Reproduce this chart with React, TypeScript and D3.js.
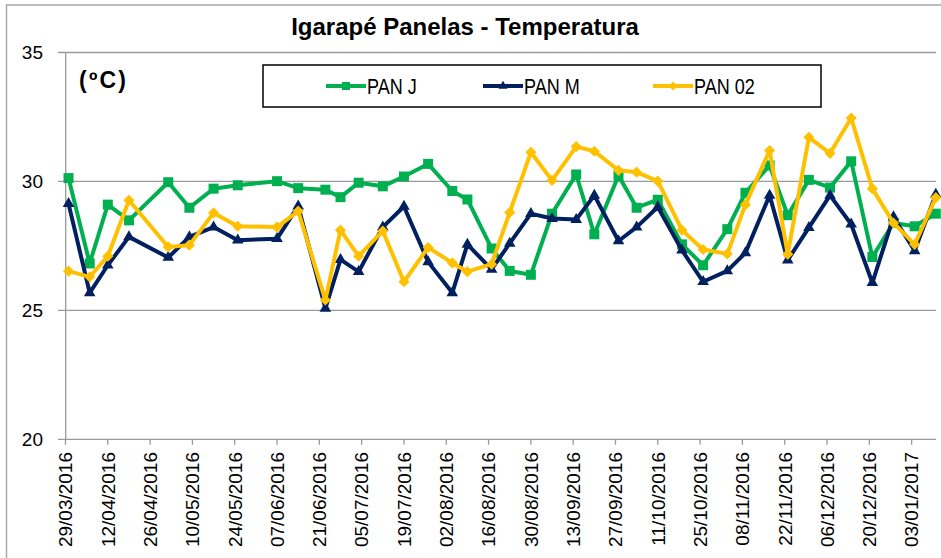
import React from "react";
import * as d3 from "d3";

// sample dates (dd/mm/yyyy)
const dates = [
  "30/03/2016", "06/04/2016", "12/04/2016", "19/04/2016", "02/05/2016",
  "09/05/2016", "17/05/2016", "25/05/2016", "07/06/2016", "14/06/2016",
  "23/06/2016", "28/06/2016", "04/07/2016", "12/07/2016", "19/07/2016",
  "27/07/2016", "04/08/2016", "09/08/2016", "17/08/2016", "23/08/2016",
  "30/08/2016", "06/09/2016", "14/09/2016", "20/09/2016", "28/09/2016",
  "04/10/2016", "11/10/2016", "19/10/2016", "26/10/2016", "03/11/2016",
  "09/11/2016", "17/11/2016", "23/11/2016", "30/11/2016", "07/12/2016",
  "14/12/2016", "21/12/2016", "28/12/2016", "04/01/2017", "11/01/2017",
];

const panJ = [
  30.13, 26.82, 29.1, 28.49, 29.97, 28.98, 29.72, 29.85, 30.01, 29.74,
  29.68, 29.39, 29.95, 29.81, 30.19, 30.68, 29.63, 29.3, 27.4, 26.53,
  26.38, 28.75, 30.27, 27.95, 30.23, 28.98, 29.29, 27.56, 26.75, 28.15,
  29.56, 30.62, 28.69, 30.06, 29.76, 30.78, 27.07, 28.39, 28.26, 28.75,
];

const panM = [
  29.14, 25.68, 26.75, 27.85, 27.05, 27.85, 28.23, 27.72, 27.78, 29.04,
  25.08, 26.97, 26.5, 28.23, 29.03, 26.88, 25.68, 27.56, 26.59, 27.6,
  28.75, 28.56, 28.52, 29.46, 27.69, 28.23, 29.01, 27.33, 26.11, 26.53,
  27.23, 29.46, 26.95, 28.21, 29.46, 28.34, 26.07, 28.62, 27.31, 29.5,
];

const pan02 = [
  26.52, 26.3, 27.1, 29.27, 27.46, 27.53, 28.78, 28.26, 28.23, 28.85,
  25.4, 28.11, 27.1, 28.08, 26.11, 27.44, 26.84, 26.5, 26.79, 28.8,
  31.13, 30.04, 31.35, 31.17, 30.43, 30.36, 30.01, 28.11, 27.36, 27.19,
  29.1, 31.2, 27.18, 31.71, 31.09, 32.46, 29.72, 28.39, 27.56, 29.37,
];

const tickLabels = [
  "29/03/2016", "12/04/2016", "26/04/2016", "10/05/2016", "24/05/2016",
  "07/06/2016", "21/06/2016", "05/07/2016", "19/07/2016", "02/08/2016",
  "16/08/2016", "30/08/2016", "13/09/2016", "27/09/2016", "11/10/2016",
  "25/10/2016", "08/11/2016", "22/11/2016", "06/12/2016", "20/12/2016",
  "03/01/2017",
];

const yTicks = [20, 25, 30, 35];

const seriesNames = ["PAN J", "PAN M", "PAN 02"];
const colours = ["#00b050", "#002060", "#ffc000"];

const parse = d3.utcParse("%d/%m/%Y");
const font = "'Liberation Sans', Arial, sans-serif";

function marker(i: number) {
  if (i === 0) return { d: d3.symbol(d3.symbolSquare, 100)(), rot: 0 };
  if (i === 1) return { d: d3.symbol(d3.symbolTriangle, 58)(), rot: 0 };
  return { d: d3.symbol(d3.symbolSquare, 62)(), rot: 45 };
}

export default function App() {
  const width = 941;
  const height = 558;

  const x = d3
    .scaleUtc()
    .domain([parse("29/03/2016")!, parse("11/01/2017")!])
    .range([65.5, 935.8]);
  const y = d3.scaleLinear().domain([20, 35]).range([439.3, 52.5]);

  const xs = dates.map((d) => parse(d)!);
  const all = [panJ, panM, pan02];

  const line = d3
    .line<number>()
    .x((_, i) => x(xs[i]))
    .y((v) => y(v));

  const legendX = [326, 483, 653];

  return (
    <svg
      width={width}
      height={height}
      style={{ position: "fixed", left: 0, top: 0, background: "#fff" }}
      fontFamily={font}
    >
      <rect x={6.5} y={5} width={1000} height={700} fill="#fff" stroke="#a6a6a6" strokeWidth={1.5} />

      {/* title */}
      <text x={465} y={34.5} textAnchor="middle" fontSize={24} fontWeight="bold">
        Igarapé Panelas - Temperatura
      </text>

      {/* grid + y axis */}
      {yTicks.map((t) => (
        <g key={t}>
          <line x1={58} x2={936} y1={y(t)} y2={y(t)} stroke="#9a9a9a" strokeWidth={1.3} />
          <text x={43} y={y(t)} dy="0.36em" textAnchor="end" fontSize={19}>
            {t}
          </text>
        </g>
      ))}
      <line x1={65.7} x2={65.7} y1={y(35)} y2={y(20)} stroke="#9a9a9a" strokeWidth={1.3} />

      {/* x ticks */}
      {tickLabels.map((t) => {
        const px = x(parse(t)!);
        return (
          <g key={t}>
            <line x1={px} x2={px} y1={y(20)} y2={y(20) + 5.5} stroke="#9a9a9a" strokeWidth={1.3} />
            <text
              transform={`translate(${px},452) rotate(-90)`}
              dy="0.36em"
              textAnchor="end"
              fontSize={19}
            >
              {t}
            </text>
          </g>
        );
      })}

      {/* series */}
      {all.map((vals, s) => {
        const m = marker(s);
        return (
          <g key={s}>
            <path d={line(vals)!} fill="none" stroke={colours[s]} strokeWidth={4} strokeLinejoin="round" />
            {vals.map((v, i) => (
              <path
                key={i}
                d={m.d!}
                fill={colours[s]}
                transform={`translate(${x(xs[i])},${y(v)}) rotate(${m.rot})`}
              />
            ))}
          </g>
        );
      })}

      {/* unit label */}
      <text x={79} y={80} dy="0.36em" fontSize={23} fontWeight="bold" textLength={47} lengthAdjust="spacing">
        (ºC)
      </text>

      {/* legend */}
      <rect x={263} y={65} width={558} height={42} fill="#fff" stroke="#000" strokeWidth={1.5} />
      {seriesNames.map((name, s) => {
        const lx = legendX[s];
        const m = marker(s);
        return (
          <g key={name}>
            <line x1={lx} x2={lx + 40} y1={86} y2={86} stroke={colours[s]} strokeWidth={4} />
            <path d={m.d!} fill={colours[s]} transform={`translate(${lx + 20},86) rotate(${m.rot}) scale(0.8)`} />
            <g transform={`translate(${lx + 41},86) scale(0.82,1)`}>
              <text dy="0.36em" fontSize={22}>
                {name}
              </text>
            </g>
          </g>
        );
      })}
    </svg>
  );
}
